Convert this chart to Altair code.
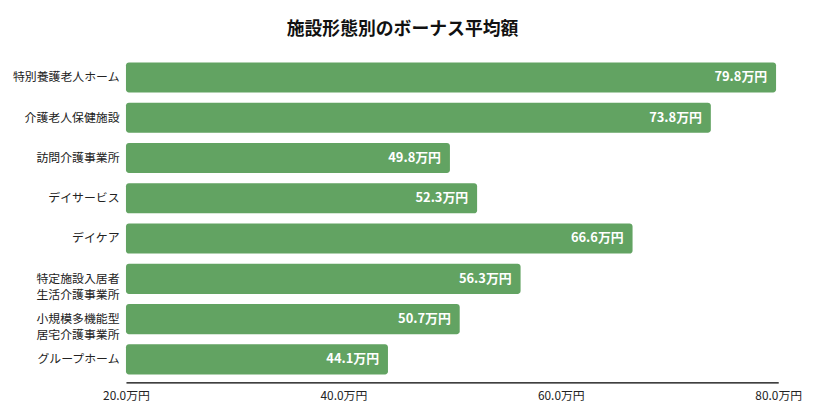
import altair as alt
import pandas as pd

# facility types (| marks a line break in the axis label)
facilities = [
    "特別養護老人ホーム",
    "介護老人保健施設",
    "訪問介護事業所",
    "デイサービス",
    "デイケア",
    "特定施設入居者|生活介護事業所",
    "小規模多機能型|居宅介護事業所",
    "グループホーム",
]
bonus = [79.8, 73.8, 49.8, 52.3, 66.6, 56.3, 50.7, 44.1]  # 万円
x_ticks = [20, 40, 60, 80]

FONT = "Noto Sans CJK JP"
GREEN = "#62a362"

df = pd.DataFrame({"facility": facilities, "bonus": bonus})

base = alt.Chart(df).encode(
    y=alt.Y("facility:N", sort=facilities, title=None,
            scale=alt.Scale(paddingInner=0.25, paddingOuter=0.2),
            axis=alt.Axis(labelExpr="split(datum.label, '|')", ticks=False,
                          domain=False, labelPadding=7, labelFontSize=12,
                          labelColor="#222222", labelFont=FONT,
                          labelLineHeight=16)),
)

bars = base.mark_bar(color=GREEN, cornerRadiusEnd=3).encode(
    x=alt.X("bonus:Q", title=None,
            scale=alt.Scale(domain=[20, 80], nice=False, zero=False),
            axis=alt.Axis(values=x_ticks, grid=False, ticks=False,
                          domainColor="#000000", domainWidth=1.2,
                          labelPadding=8, labelFontSize=12, labelFont=FONT,
                          labelColor="#222222", labelFlush=False,
                          labelExpr="format(datum.value, '.1f') + '万円'")),
    x2=alt.datum(20),
)

labels = base.mark_text(align="right", dx=-9, color="white", fontSize=13,
                        fontWeight="bold", font=FONT).encode(
    x="bonus:Q",
    text=alt.Text("label:N"),
).transform_calculate(label="format(datum.bonus, '.1f') + '万円'")

chart = (bars + labels).properties(
    width=658, height=331,
    autosize=alt.AutoSizeParams(type="none"),
    padding={"left": 119, "top": 45, "right": 27, "bottom": 20},
    title=alt.TitleParams("施設形態別のボーナス平均額", fontSize=18,
                          fontWeight="bold", font=FONT, color="#111111",
                          offset=15, dx=-50),
).configure_view(stroke=None)

chart.save("out.html", embed_options={"renderer": "svg", "actions": False})
